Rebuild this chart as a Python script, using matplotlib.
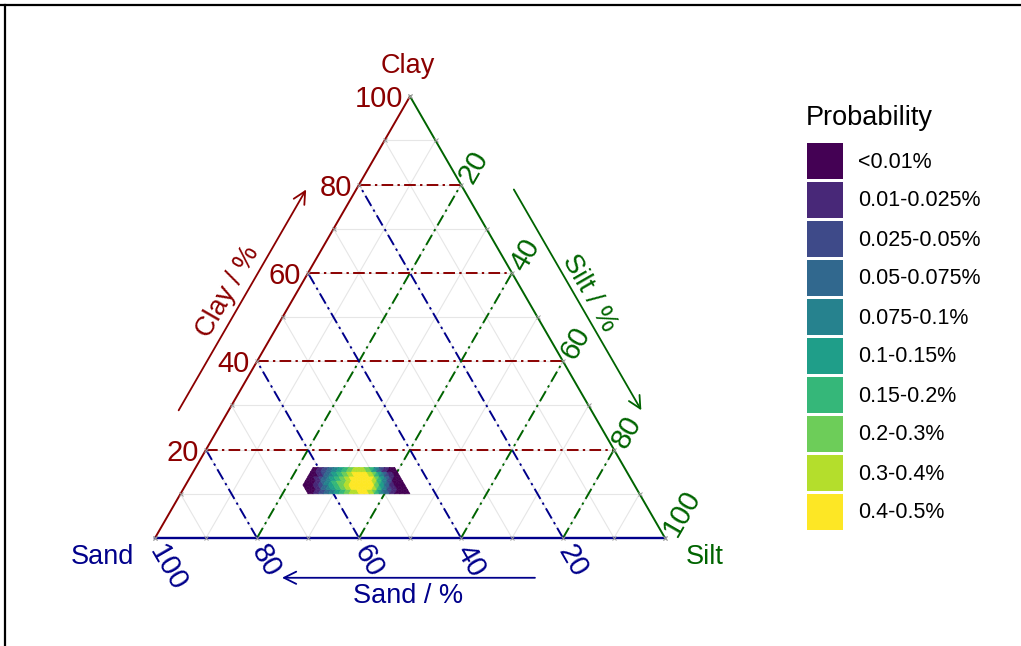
import numpy as np
import matplotlib.pyplot as plt
from matplotlib.collections import PolyCollection, LineCollection
from matplotlib.patches import Rectangle
from matplotlib.lines import Line2D

plt.rcParams['font.family'] = ['Liberation Sans', 'DejaVu Sans']

# legend classes
prob_labels = ["<0.01%", "0.01-0.025%", "0.025-0.05%", "0.05-0.075%", "0.075-0.1%",
               "0.1-0.15%", "0.15-0.2%", "0.2-0.3%", "0.3-0.4%", "0.4-0.5%"]
prob_colors = ["#440154", "#482878", "#3E4A89", "#31688E", "#26828E",
               "#1F9E89", "#35B779", "#6DCD59", "#B4DE2C", "#FDE725"]

# density cells (1 % triangles): lower clay of each row, first half-step along silt,
# then the probability class of each triangle from left to right
cell_clay = [10, 11, 12, 13, 14, 15]
cell_start = [49, 47, 46, 46, 46, 46]
cell_class = [
    "0001122334455667788899998876543321100000",
    "0000112334556677889999999998765432110000",
    "000011234456677788999999999876543210000",
    "0001123345566778899999999987654321000",
    "00011233455667788999999887654321100",
    "001122334455667788888776543211000",
]

tick_values = [20, 40, 60, 80, 100]
minor_values = [10, 20, 30, 40, 50, 60, 70, 80, 90]
major_values = [20, 40, 60, 80]

CLAY_C = "#8B0000"
SAND_C = "#00008B"
SILT_C = "#006400"
H = np.sqrt(3) / 2


def xy(silt, clay):
    return ((silt + clay / 2) / 100, clay * H / 100)


fig = plt.figure(figsize=(10.21, 6.46), dpi=100)
ax = fig.add_axes([0, 0, 1, 1])
ax.set_xlim(-155 / 510, 866 / 510)
ax.set_ylim(-108 / 510, 538 / 510)
ax.axis("off")

# light grid every 10 %
segs = []
for v in minor_values:
    segs.append([xy(0, v), xy(100 - v, v)])          # clay
    segs.append([xy(100 - v, 0), xy(0, 100 - v)])    # sand
    segs.append([xy(v, 0), xy(v, 100 - v)])          # silt
ax.add_collection(LineCollection(segs, colors="#e6e6e6", linewidths=0.8, zorder=1))

# dash-dot major lines
dd = (0, (6, 2.2, 1.2, 2.2))
for v in major_values:
    ax.plot(*zip(xy(0, v), xy(100 - v, v)), color=CLAY_C, lw=1.4, ls=dd, zorder=2)
    ax.plot(*zip(xy(100 - v, 0), xy(0, 100 - v)), color=SAND_C, lw=1.4, ls=dd, zorder=2)
    ax.plot(*zip(xy(v, 0), xy(v, 100 - v)), color=SILT_C, lw=1.4, ls=dd, zorder=2)

# density cells
polys, cols = [], []
for clay, k0, row in zip(cell_clay, cell_start, cell_class):
    for n, ch in enumerate(row):
        k = k0 + n
        i = k // 2
        if k % 2 == 0:
            pts = [(i, clay), (i + 1, clay), (i, clay + 1)]
        else:
            pts = [(i + 1, clay), (i + 1, clay + 1), (i, clay + 1)]
        polys.append([xy(s, c) for s, c in pts])
        cols.append(prob_colors[int(ch)])
ax.add_collection(PolyCollection(polys, facecolors=cols, edgecolors=cols, linewidths=0.4, zorder=3))

# triangle edges
ax.plot(*zip(xy(0, 0), xy(0, 100)), color=CLAY_C, lw=1.4, zorder=4)
ax.plot(*zip(xy(0, 100), xy(100, 0)), color=SILT_C, lw=1.4, zorder=4)
ax.plot(*zip(xy(0, 0), xy(100, 0)), color=SAND_C, lw=1.7, zorder=4)

# small gray ticks
tk = []
for v in [0] + minor_values + [100]:
    tk += [xy(0, v), xy(v, 100 - v), xy(100 - v, 0)]
tx, ty = zip(*tk)
ax.plot(tx, ty, ls="none", marker="x", ms=3.5, mew=0.7, color="#9a9a9a", zorder=5)

# tick labels
px = 1 / 510
for v in tick_values:
    x, y = xy(0, v)
    ax.text(x - 7 * px, y - 3 * px, str(v), color=CLAY_C, fontsize=21,
            ha="right", va="center")
    x, y = xy(v, 100 - v)
    ax.text(x + 5 * px, y + 4 * px, str(v), color=SILT_C, fontsize=21,
            ha="left", va="center", rotation=60, rotation_mode="anchor")
    x, y = xy(100 - v, 0)
    ax.text(x + 1 * px, y - 9 * px, str(v), color=SAND_C, fontsize=21,
            ha="left", va="center", rotation=-60, rotation_mode="anchor")

# corner labels
ax.text(0.496, 0.925, "Clay", color=CLAY_C, fontsize=19.5, ha="center", va="center")
ax.text(-0.104, -0.037, "Sand", color=SAND_C, fontsize=19.5, ha="center", va="center")
ax.text(1.078, -0.037, "Silt", color=SILT_C, fontsize=19.5, ha="center", va="center")

# axis arrows and titles
nl = np.array([-H, 0.5])
nr = np.array([H, 0.5])


def left_pt(c, d):
    return np.array(xy(0, c * 100)) + d * nl


def right_pt(s, d):
    return np.array(xy(s * 100, (1 - s) * 100)) + d * nr


arw = dict(arrowstyle="->", lw=1.3, mutation_scale=22, shrinkA=0, shrinkB=0)
ax.annotate("", xy=left_pt(0.74, 0.085), xytext=left_pt(0.24, 0.085),
            arrowprops=dict(arw, color=CLAY_C))
p = left_pt(0.49, 0.118)
ax.text(p[0], p[1], "Clay / %", color=CLAY_C, fontsize=19.5, rotation=60,
        ha="center", va="center", rotation_mode="anchor")

ax.annotate("", xy=right_pt(0.76, 0.085), xytext=right_pt(0.26, 0.085),
            arrowprops=dict(arw, color=SILT_C))
p = right_pt(0.51, 0.112)
ax.text(p[0], p[1], "Silt / %", color=SILT_C, fontsize=19.5, rotation=-60,
        ha="center", va="center", rotation_mode="anchor")

ax.annotate("", xy=(0.249, -0.078), xytext=(0.745, -0.078),
            arrowprops=dict(arw, color=SAND_C))
ax.text(0.496, -0.114, "Sand / %", color=SAND_C, fontsize=19.5, ha="center", va="center")

# legend and frame in pixel coordinates
lax = fig.add_axes([0, 0, 1, 1], zorder=5)
lax.set_xlim(0, 1021)
lax.set_ylim(646, 0)
lax.axis("off")
lax.text(806, 118, "Probability", fontsize=19.5, ha="left", va="center", color="black")
for n, (lab, col) in enumerate(zip(prob_labels, prob_colors)):
    top = 143 + 39 * n
    lax.add_patch(Rectangle((807, top), 36, 36, facecolor=col, edgecolor="none"))
    lax.text(858, top + 19, lab, fontsize=15.5, ha="left", va="center", color="black")

lax.add_line(Line2D([0, 1021], [5, 5], color="black", lw=1.6))
lax.add_line(Line2D([5, 5], [5, 646], color="black", lw=1.6))

fig.savefig("out.png", dpi=100, facecolor="white")
